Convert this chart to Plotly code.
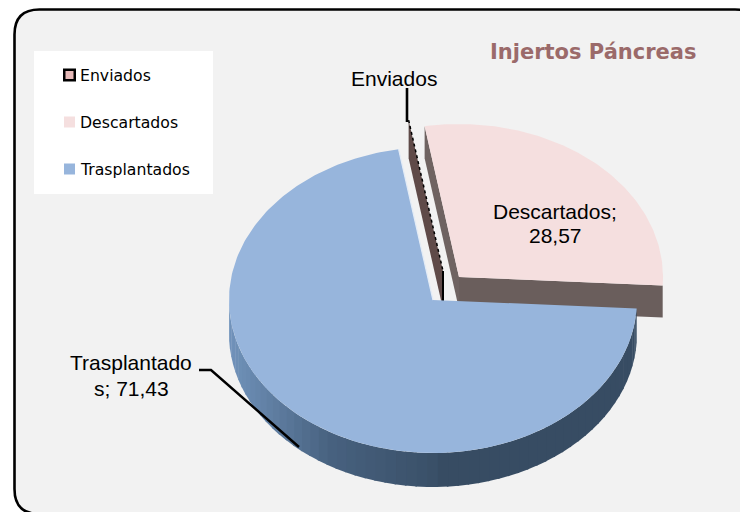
import math
import plotly.graph_objects as go

# --- data ---
categories = ["Enviados", "Descartados", "Trasplantados"]
values = [0.0, 28.57, 71.43]
title_text = "Injertos Páncreas"

# --- styles / geometry ---
W, H = 740, 512
RX, RY = 204, 153
ROT = -9.7
CENTERS = {"Enviados": (443, 271), "Descartados": (459, 277), "Trasplantados": (433, 300)}
DEPTH = {"Enviados": 38, "Descartados": 32, "Trasplantados": 34}
TOP = {"Enviados": "#e6b9b8", "Descartados": "#f5dfdf", "Trasplantados": "#97b5dc"}
WALL = {"Enviados": "#5f4a48", "Descartados": "#6a5e5c"}
BG = "#f2f2f2"
ARIAL = "Liberation Sans, Arial, sans-serif"
COMIC = "DejaVu Sans, sans-serif"


def rim(c, t):
    cx, cy = CENTERS[c]
    a = math.radians(t)
    return cx + RX * math.sin(a), cy - RY * math.cos(a)


def poly(pts, color, line=None):
    xs = [p[0] for p in pts] + [pts[0][0]]
    ys = [p[1] for p in pts] + [pts[0][1]]
    return go.Scatter(x=xs, y=ys, mode="lines", fill="toself", fillcolor=color,
                      line=dict(color=line or color, width=0.8 if line else 0),
                      hoverinfo="skip", showlegend=False)


def seg(pts, color, width, dash="solid"):
    return go.Scatter(x=[p[0] for p in pts], y=[p[1] for p in pts], mode="lines",
                      line=dict(color=color, width=width, dash=dash),
                      hoverinfo="skip", showlegend=False)


def mix(a, b, f):
    ca = [int(a[i:i + 2], 16) for i in (1, 3, 5)]
    cb = [int(b[i:i + 2], 16) for i in (1, 3, 5)]
    return "#%02x%02x%02x" % tuple(round(p + (q - p) * f) for p, q in zip(ca, cb))


def arc(c, t0, t1, n=120):
    return [rim(c, t0 + (t1 - t0) * i / n) for i in range(n + 1)]


# slice angles from the values
total = sum(values)
angles = {}
t = ROT
for name, val in zip(categories, values):
    angles[name] = (t, t + val / total * 360)
    t = angles[name][1]

traces = []

# Descartados: walls + top
c = "Descartados"
t0, t1 = angles[c]
cen, d = CENTERS[c], DEPTH[c]
p0, p1 = rim(c, t0), rim(c, t1)
traces.append(poly([p0, cen, (cen[0], cen[1] + d), (p0[0], p0[1] + d)], "#6f6361"))
traces.append(poly([cen, p1, (p1[0], p1[1] + d), (cen[0], cen[1] + d)], WALL[c]))
traces.append(poly([cen] + arc(c, t0, t1), TOP[c]))

# Enviados: zero-width slice, only its wall and edge show
c = "Enviados"
t0, _ = angles[c]
cen, d = CENTERS[c], DEPTH[c]
p0 = rim(c, t0)
traces.append(poly([p0, cen, (cen[0], cen[1] + d), (p0[0], p0[1] + d)], WALL[c]))
traces.append(seg([p0, cen], "#000000", 1.5, "dot"))
traces.append(seg([cen, (cen[0], cen[1] + d)], "#000000", 2))

# Trasplantados: outer wall in shaded bands + top
c = "Trasplantados"
t0, t1 = angles[c]
cen, d = CENTERS[c], DEPTH[c]
wall_end = 270.0
n_bands = 60
for i in range(n_bands):
    a = t0 + (wall_end - t0) * i / n_bands
    b = t0 + (wall_end - t0) * (i + 1.15) / n_bands
    top_pts = arc(c, a, min(b, wall_end), 4)
    bot_pts = [(x, y + d) for x, y in reversed(top_pts)]
    xm = top_pts[2][0]
    if xm < 330:
        col = mix("#7193bb", "#47617f", (xm - 229) / 101)
    elif xm < 433:
        col = mix("#47617f", "#3a5068", (xm - 330) / 103)
    else:
        col = "#374c63"
    traces.append(poly(top_pts + bot_pts, col))
traces.append(poly([cen] + arc(c, t0, t1, 240), TOP[c]))
traces.append(seg([rim(c, t1), cen], "#e4ecf6", 1.3))

# leader lines
traces.append(seg([(407, 88), (407, 122)], "#000000", 2.6))
traces.append(seg([(199, 370), (211, 370), (299, 447)], "#000000", 2.4))

# legend swatches
swatch_y = [75, 122, 169]
for name, y in zip(categories, swatch_y):
    has_border = name == "Enviados"
    traces.append(go.Scatter(
        x=[69.5], y=[y], mode="markers",
        marker=dict(symbol="square", size=10.5 if has_border else 11, color=TOP[name],
                    line=dict(color="#000000", width=2.5 if has_border else 0)),
        hoverinfo="skip", showlegend=False))

fig = go.Figure(traces)


def fmt(v):
    return f"{v:.2f}".replace(".", ",")


LBL = dict(family=ARIAL, size=21, color="#000000")
ann = [
    dict(x=593, y=52, text=f"<b>{title_text}</b>", font=dict(family=COMIC, size=21, color="#9b6a6a")),
    dict(x=393.5, y=78, text=categories[0], font=LBL),
    dict(x=555, y=211, text=f"{categories[1]};", font=LBL),
    dict(x=555, y=235, text=fmt(values[1]), font=LBL),
    dict(x=131, y=362, text=categories[2][:-1], font=LBL),
    dict(x=131, y=388, text=f"{categories[2][-1]}; {fmt(values[2])}", font=LBL),
]
for name, y in zip(categories, swatch_y):
    ann.append(dict(x=78, y=y, text=name, xanchor="left",
                    font=dict(family=COMIC, size=15.7, color="#000000")))
for a in ann:
    a.setdefault("xanchor", "center")
    a.update(xref="x", yref="y", yanchor="middle", showarrow=False, align="center")

R = 25
L, T, Rt, B = 14.5, 9.5, 760, 514
frame = (f"M {L},{T + R} Q {L},{T} {L + R},{T} L {Rt - R},{T} Q {Rt},{T} {Rt},{T + R} "
         f"L {Rt},{B - R} Q {Rt},{B} {Rt - R},{B} L {L + R},{B} Q {L},{B} {L},{B - R} Z")

fig.update_layout(
    width=W, height=H, margin=dict(l=0, r=0, t=0, b=0),
    paper_bgcolor="#ffffff", plot_bgcolor="rgba(0,0,0,0)", showlegend=False,
    xaxis=dict(range=[0, W], visible=False, fixedrange=True),
    yaxis=dict(range=[H, 0], visible=False, fixedrange=True),
    annotations=ann,
    shapes=[
        dict(type="path", path=frame, xref="x", yref="y", layer="below",
             fillcolor=BG, line=dict(color="#000000", width=2.6)),
        dict(type="rect", x0=34, y0=51, x1=213, y1=194, xref="x", yref="y", layer="below",
             fillcolor="#ffffff", line=dict(width=0)),
    ],
)

fig.write_html("out.html", config={"displayModeBar": False},
               post_script="document.body.style.margin='0';document.body.style.overflow='hidden';")
